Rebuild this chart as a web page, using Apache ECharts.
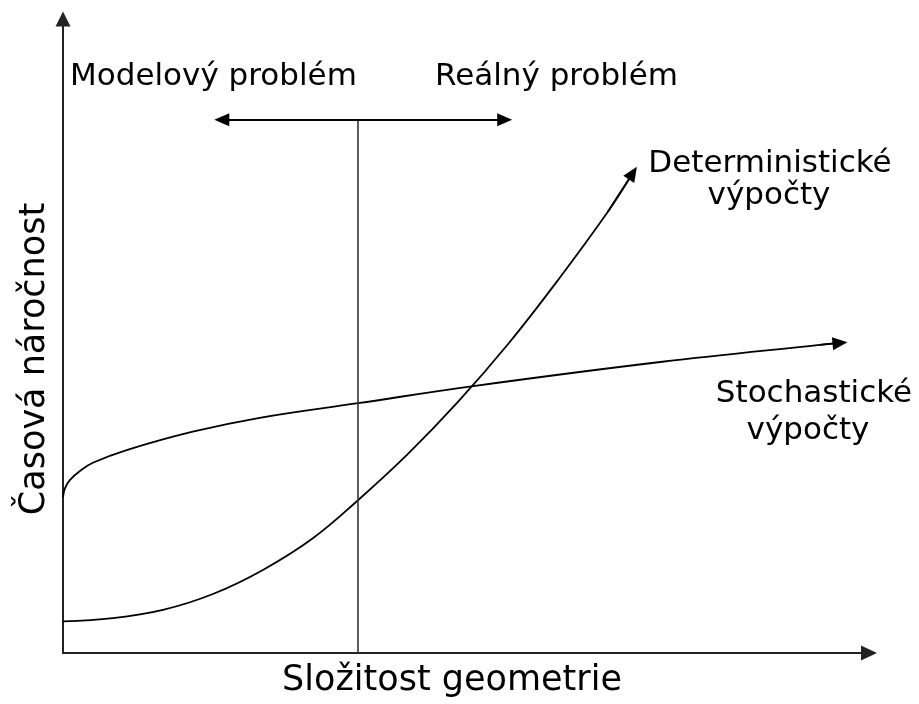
<!DOCTYPE html>
<html>
<head>
<meta charset="utf-8">
<script src="https://cdn.jsdelivr.net/npm/echarts@6/dist/echarts.min.js"></script>
<style>
  html, body { margin: 0; padding: 0; background: #fff; }
  #main { width: 919px; height: 704px; }
</style>
</head>
<body>
<div id="main"></div>
<script>
// schematic values, both axes on a 0-100 scale
const detX = [0, 6.2, 12.4, 18.6, 24.8, 31.0, 36.6, 42.8, 49.0, 55.2, 61.4, 67.6, 70.7];
const detY = [5.0, 5.5, 6.8, 9.3, 13.1, 18.1, 24.1, 31.4, 39.6, 48.7, 58.8, 69.6, 75.7];

const stoX = [0, 0.25, 0.87, 2.1, 3.7, 7.9, 16.1, 24.4, 36.6, 50.9, 74.1, 93.9, 96.4];
const stoY = [24.6, 26.0, 27.3, 28.7, 30.0, 32.0, 34.9, 37.1, 39.4, 42.1, 45.9, 48.6, 48.9];

const dividerX = 36.6;
const rangeArrowY = 84.1;
const rangeArrowX = [19.7, 54.8];

const FONT = '"DejaVu Sans", Verdana, sans-serif';
const INK = '#000';

function pairs(xs, ys) {
  return xs.map((x, i) => [x, ys[i]]);
}

// arrowhead along the last segment of a curve
function headLine(xs, ys) {
  const n = xs.length;
  return {
    silent: true,
    symbol: ['none', 'triangle'],
    symbolSize: [13, 15],
    label: { show: false },
    lineStyle: { color: INK, width: 1.8, type: 'solid' },
    data: [[{ coord: [xs[n - 2], ys[n - 2]] }, { coord: [xs[n - 1], ys[n - 1]] }]]
  };
}

function curve(name, xs, ys) {
  return {
    name: name,
    type: 'line',
    data: pairs(xs, ys),
    smooth: 0.4,
    symbol: 'none',
    lineStyle: { color: INK, width: 1.8 },
    markLine: headLine(xs, ys)
  };
}

function label(text, x, y, size, align) {
  return {
    type: 'text',
    x: x,
    y: y,
    style: { text: text, font: size + 'px ' + FONT, fill: INK, textAlign: align, textVerticalAlign: 'middle' }
  };
}

const chart = echarts.init(document.getElementById('main'), null, { renderer: 'canvas' });

const option = {
  animation: false,
  backgroundColor: '#fff',
  grid: { left: 63, right: 50, top: 19, bottom: 51 },
  xAxis: {
    type: 'value',
    min: 0,
    max: 100,
    axisLine: {
      show: true,
      onZero: false,
      symbol: ['none', 'triangle'],
      symbolSize: [15, 16],
      lineStyle: { color: '#222', width: 2 }
    },
    axisTick: { show: false },
    axisLabel: { show: false },
    splitLine: { show: false }
  },
  yAxis: {
    type: 'value',
    min: 0,
    max: 100,
    axisLine: {
      show: true,
      onZero: false,
      symbol: ['none', 'triangle'],
      symbolSize: [15, 15],
      lineStyle: { color: '#222', width: 2 }
    },
    axisTick: { show: false },
    axisLabel: { show: false },
    splitLine: { show: false }
  },
  series: [
    curve('Deterministické výpočty', detX, detY),
    curve('Stochastické výpočty', stoX, stoY),
    {
      name: 'divider',
      type: 'line',
      data: [],
      markLine: {
        silent: true,
        label: { show: false },
        data: [
          [
            { coord: [dividerX, 0], symbol: 'none', lineStyle: { color: '#333', width: 1.6, type: 'solid' } },
            { coord: [dividerX, rangeArrowY], symbol: 'none' }
          ],
          [
            { coord: [rangeArrowX[0], rangeArrowY], symbol: 'triangle', symbolSize: [13, 15], lineStyle: { color: INK, width: 1.8, type: 'solid' } },
            { coord: [rangeArrowX[1], rangeArrowY], symbol: 'triangle', symbolSize: [13, 15] }
          ]
        ]
      }
    }
  ],
  graphic: [
    label('Modelový problém', 70, 77, 31, 'left'),
    label('Reálný problém', 435, 77, 31, 'left'),
    label('Deterministické', 770, 164, 31, 'center'),
    label('výpočty', 769, 196, 31, 'center'),
    label('Stochastické', 814, 394, 31, 'center'),
    label('výpočty', 808, 431, 31, 'center'),
    label('Složitost geometrie', 452, 681, 35, 'center'),
    Object.assign(label('Časová náročnost', 35, 359, 35, 'center'), { rotation: Math.PI / 2 })
  ]
};

chart.setOption(option);
</script>
</body>
</html>
